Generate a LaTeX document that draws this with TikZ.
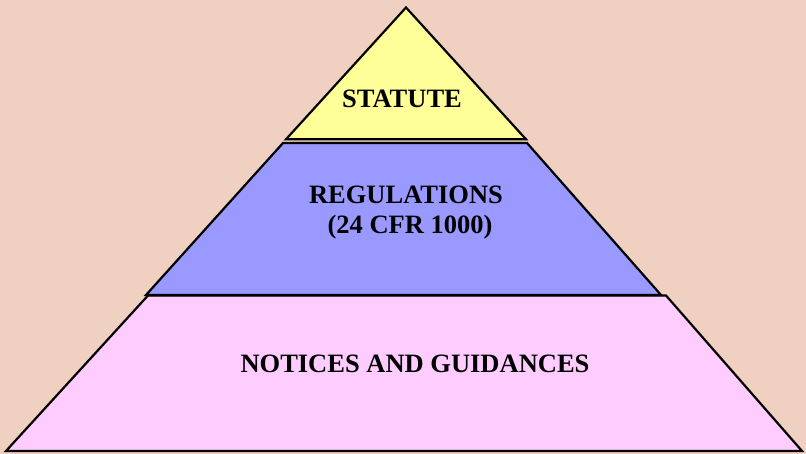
\documentclass[tikz,border=0pt]{standalone}
\usepackage{fontspec}
\setmainfont{Liberation Serif}
\definecolor{bgsand}{RGB}{239,208,193}
\definecolor{tiertop}{RGB}{255,255,153}
\definecolor{tiermid}{RGB}{153,153,255}
\definecolor{tierlow}{RGB}{255,204,255}
\tikzset{
  tier/.style={draw=black, line width=2.2pt, line join=miter},
  tierlabel/.style={font=\fontsize{26.5}{30}\selectfont\bfseries, align=center, text=black, inner sep=0pt}
}
\begin{document}
\begin{tikzpicture}[x=1pt,y=-1pt]
  % canvas
  \fill[bgsand] (0,0) rectangle (806,454);
  \useasboundingbox (0,0) rectangle (806,454);

  % bottom tier
  \filldraw[tier, fill=tierlow] (148,295.5) -- (666,295.5) -- (802,451) -- (6,451) -- cycle;
  % middle tier
  \filldraw[tier, fill=tiermid] (283,143) -- (527,143) -- (661,295) -- (146,295) -- cycle;
  % top tier
  \filldraw[tier, fill=tiertop] (406,7.5) -- (526,139.3) -- (286,139.3) -- cycle;

  % labels
  \node[tierlabel] (statute) at (402,98.5) {STATUTE};
  \node[tierlabel] (regs) at (406,194.5) {REGULATIONS};
  \node[tierlabel] (cfr) at (410,227.5) {(24 CFR 1000)};
  \node[tierlabel] (notices) at (415,363.5) {NOTICES AND GUIDANCES};
\end{tikzpicture}
\end{document}
